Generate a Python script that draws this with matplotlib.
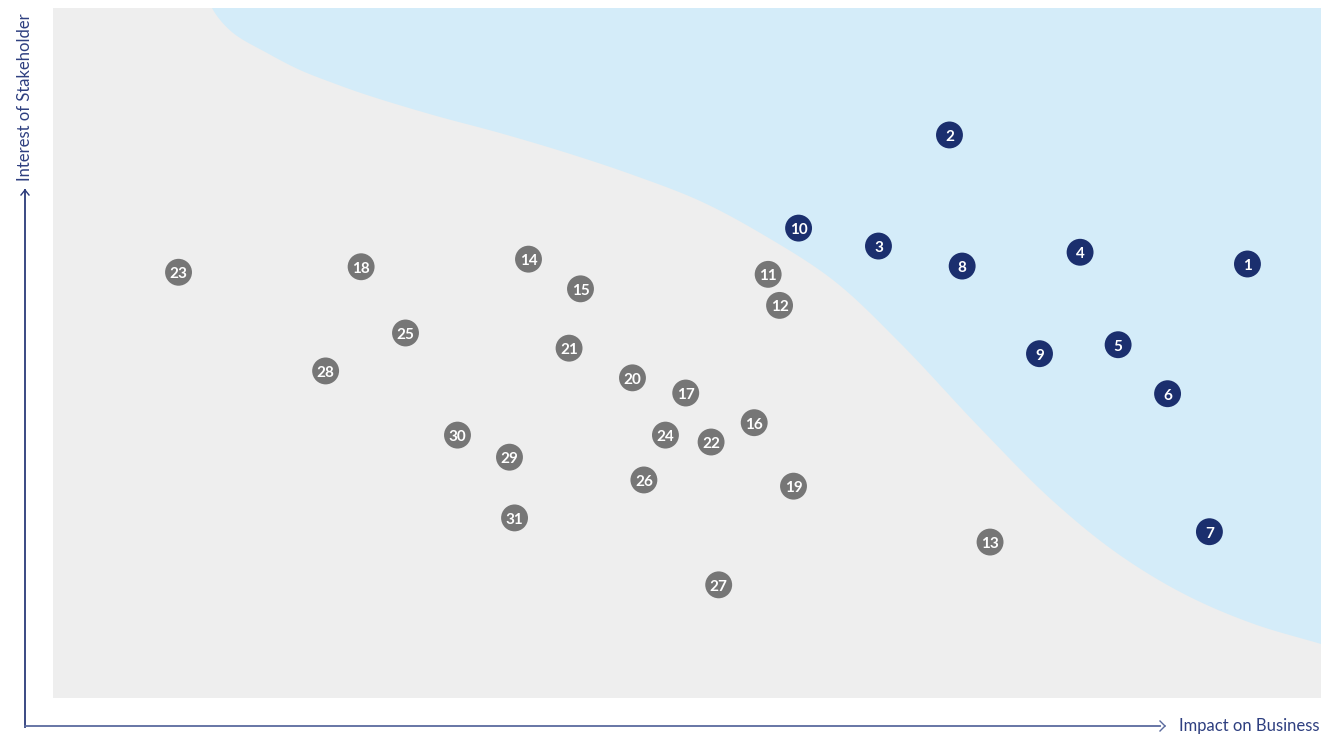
"""Materiality matrix: impact on business vs interest of stakeholder"""
import matplotlib
matplotlib.use('Agg')
import matplotlib.pyplot as plt
from matplotlib.lines import Line2D
import numpy as np

# topic number, impact on business (0-100), interest of stakeholder (0-100)
topics = list(range(1, 32))
impact = [94.2, 70.7, 65.1, 81.0, 84.0, 87.9, 91.2, 71.7, 77.8, 58.8,
          56.4, 57.3, 73.9, 37.5, 41.6, 55.3, 49.9, 24.3, 58.4, 45.7,
          40.7, 51.9, 9.9, 48.3, 27.8, 46.6, 52.5, 21.5, 36.0, 31.9, 36.4]
interest = [62.9, 81.6, 65.5, 64.6, 51.2, 44.1, 24.1, 62.6, 49.9, 68.1,
            61.4, 56.9, 22.6, 63.6, 59.3, 39.9, 44.2, 62.5, 30.7, 46.4,
            50.7, 37.1, 61.7, 38.1, 52.9, 31.6, 16.4, 47.4, 34.9, 38.1, 26.1]
material = [1, 2, 3, 4, 5, 6, 7, 8, 9, 10]

# edge of the highlighted (material) zone, starting just above the plot
zone_x = [12.22, 12.54, 14.2, 16.88, 19.48, 22.08, 24.76, 29.97, 35.25,
          40.54, 45.74, 51.03, 56.31, 61.51, 66.8, 73.11, 78.94, 84.23,
          89.51, 94.72, 100.0]
zone_y = [102.6, 100.0, 96.38, 93.48, 91.01, 89.13, 87.39, 84.49, 81.88,
          78.99, 75.8, 72.03, 66.81, 60.58, 51.45, 39.13, 28.41, 20.58,
          14.78, 10.72, 7.83]

NAVY = '#1b2f6e'
GREY = '#767676'
AXIS = '#2b3a7a'


def smooth(xs, ys, n=30, alpha=0.5):
    """Centripetal Catmull-Rom through the given edge points"""
    pts = np.column_stack([xs, ys]).astype(float)
    pts = np.vstack([2 * pts[0] - pts[1], pts, 2 * pts[-1] - pts[-2]])
    out = []
    for i in range(1, len(pts) - 2):
        p0, p1, p2, p3 = pts[i - 1], pts[i], pts[i + 1], pts[i + 2]
        t0 = 0.0
        t1 = t0 + np.linalg.norm(p1 - p0) ** alpha
        t2 = t1 + np.linalg.norm(p2 - p1) ** alpha
        t3 = t2 + np.linalg.norm(p3 - p2) ** alpha
        for t in np.linspace(t1, t2, n, endpoint=False):
            a1 = (t1 - t) / (t1 - t0) * p0 + (t - t0) / (t1 - t0) * p1
            a2 = (t2 - t) / (t2 - t1) * p1 + (t - t1) / (t2 - t1) * p2
            a3 = (t3 - t) / (t3 - t2) * p2 + (t - t2) / (t3 - t2) * p3
            b1 = (t2 - t) / (t2 - t0) * a1 + (t - t0) / (t2 - t0) * a2
            b2 = (t3 - t) / (t3 - t1) * a2 + (t - t1) / (t3 - t1) * a3
            out.append((t2 - t) / (t2 - t1) * b1 + (t - t1) / (t2 - t1) * b2)
    out.append(pts[-2])
    out = np.array(out)
    return out[:, 0], out[:, 1]


fig = plt.figure(figsize=(13.21, 7.38), dpi=100)
ax = fig.add_axes([53 / 1321, 40 / 738, 1268 / 1321, 690 / 738])
ax.set_facecolor('#eeeeee')
ax.set_xlim(0, 100)
ax.set_ylim(0, 100)
for spine in ax.spines.values():
    spine.set_visible(False)
ax.set_xticks([])
ax.set_yticks([])

sx, sy = smooth(zone_x, zone_y)
poly_x = np.concatenate([sx, [105, 105, sx[0]]])
poly_y = np.concatenate([sy, [sy[-1], 105, 105]])
ax.fill(poly_x, poly_y, color='#d4ecf9', lw=0, zorder=1)

for num, x, y in zip(topics, impact, interest):
    color = NAVY if num in material else GREY
    ax.scatter(x, y, s=375, color=color, edgecolors='none', zorder=3)
    ax.text(x, y - 0.3, str(num), color='white', fontsize=11,
            fontweight='bold', family='Lato', ha='center', va='center',
            zorder=4)

# axis arrows drawn in figure coordinates
fig.add_artist(Line2D([25 / 1321, 25 / 1321], [11 / 738, 548 / 738],
                      color=AXIS, lw=1.3))
fig.add_artist(Line2D([25 / 1321, 1160 / 1321], [12 / 738, 12 / 738],
                      color='#5a6a9e', lw=1.3))
fig.add_artist(Line2D([1160 / 1321, 1165 / 1321], [17 / 738, 12 / 738],
                      color='#5a6a9e', lw=1.0))
fig.add_artist(Line2D([1160 / 1321, 1165 / 1321], [7 / 738, 12 / 738],
                      color='#5a6a9e', lw=1.0))
fig.add_artist(Line2D([21 / 1321, 25 / 1321], [543 / 738, 548 / 738],
                      color=AXIS, lw=1.0))
fig.add_artist(Line2D([29 / 1321, 25 / 1321], [543 / 738, 548 / 738],
                      color=AXIS, lw=1.0))

fig.text(1179 / 1321, 12 / 738, 'Impact on Business', color='#2e3f80',
         fontsize=12, family='Lato', ha='left', va='center')
fig.text(25 / 1321, 557 / 738, 'Interest of Stakeholder', color='#2e3f80',
         fontsize=12, family='Lato', ha='center', va='bottom', rotation=90)

fig.savefig('out.png', dpi=100)
